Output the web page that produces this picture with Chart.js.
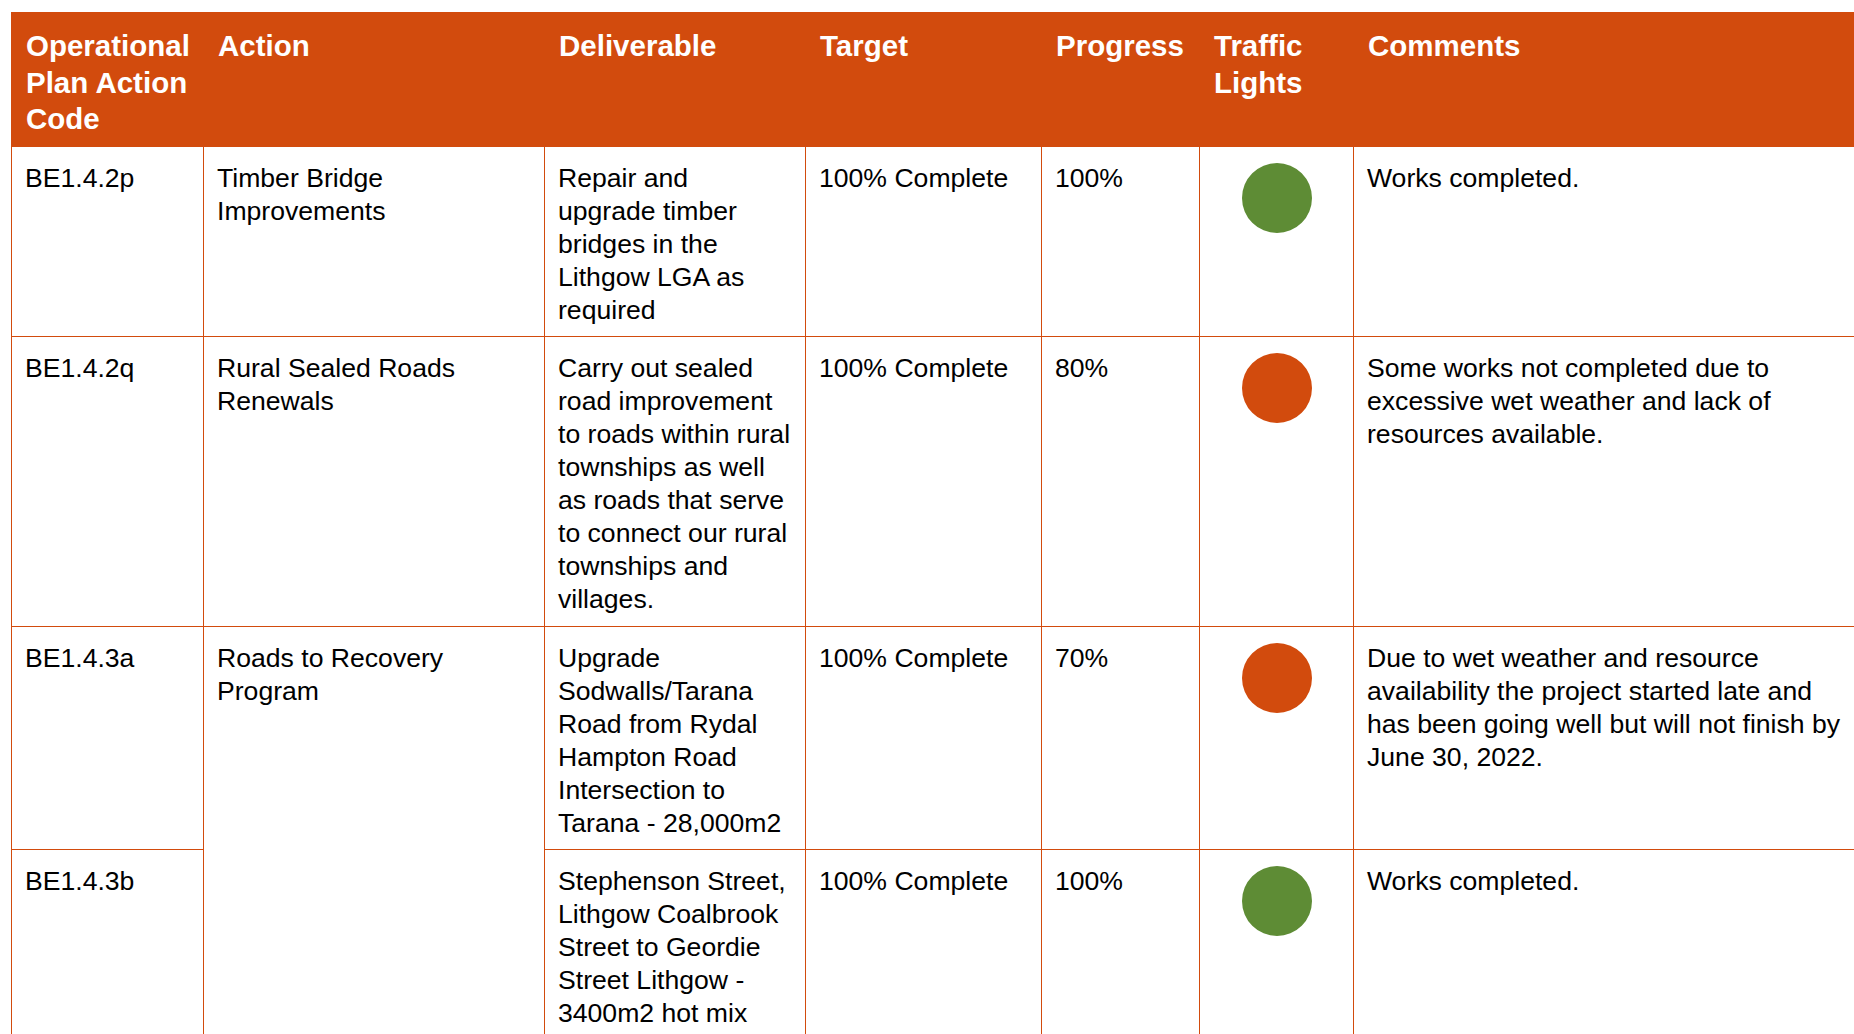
<!DOCTYPE html>
<html>
<head>
<meta charset="utf-8">
<script src="https://cdn.jsdelivr.net/npm/chart.js@4.4.1/dist/chart.umd.min.js"></script>
<style>
  html, body { margin: 0; padding: 0; background: #fff; overflow: hidden; width: 1854px; height: 1034px; }
  #plan {
    position: absolute; left: 11px; top: 12px;
    border-collapse: collapse; table-layout: fixed; width: 1900px;
    font-family: "Liberation Sans", Arial, sans-serif; color: #000;
  }
  #plan th, #plan td {
    border: 1px solid #D24B0D; vertical-align: top; text-align: left;
    white-space: pre; overflow: hidden;
  }
  #plan th {
    background: #D24B0D; color: #fff; font-weight: bold;
    font-size: 29.5px; line-height: 36.6px; padding: 15px 10px 0 14px; height: 118px;
  }
  #plan td { font-size: 26.6px; line-height: 33px; padding: 15px 10px 0 13px; }
  #plan td.light { padding: 15.5px 0 0 0; }
  #plan td.light canvas { display: block; margin: 0 auto; }
</style>
</head>
<body>
<table id="plan">
  <colgroup>
    <col style="width:192px"><col style="width:341px"><col style="width:261px">
    <col style="width:236px"><col style="width:158px"><col style="width:154px"><col>
  </colgroup>
  <thead><tr id="head"></tr></thead>
  <tbody id="rows"></tbody>
</table>
<script>
// Column headings
const headers = ['Operational\nPlan Action\nCode', 'Action', 'Deliverable', 'Target', 'Progress', 'Traffic\nLights', 'Comments'];

// One entry per row; null action = merged with the row above
const codes = ['BE1.4.2p', 'BE1.4.2q', 'BE1.4.3a', 'BE1.4.3b'];
const actions = [
    'Timber Bridge\nImprovements',
    'Rural Sealed Roads\nRenewals',
    'Roads to Recovery\nProgram',
    null
];
const deliverables = [
    'Repair and\nupgrade timber\nbridges in the\nLithgow LGA as\nrequired',
    'Carry out sealed\nroad improvement\nto roads within rural\ntownships as well\nas roads that serve\nto connect our rural\ntownships and\nvillages.',
    'Upgrade\nSodwalls/Tarana\nRoad from Rydal\nHampton Road\nIntersection to\nTarana - 28,000m2',
    'Stephenson Street,\nLithgow Coalbrook\nStreet to Geordie\nStreet Lithgow -\n3400m2 hot mix'
];
const targets = ['100% Complete', '100% Complete', '100% Complete', '100% Complete'];
const progress = [100, 80, 70, 100];
const lights = ['green', 'orange', 'orange', 'green'];
const comments = [
    'Works completed.',
    'Some works not completed due to\nexcessive wet weather and lack of\nresources available.',
    'Due to wet weather and resource\navailability the project started late and\nhas been going well but will not finish by\nJune 30, 2022.',
    'Works completed.'
];

const lightColors = { green: '#5E8C35', orange: '#D24B0D' };
const rowHeights = [190, 290, 223, 260];

// Header
const headRow = document.getElementById('head');
headers.forEach(h => {
    const th = document.createElement('th');
    th.textContent = h;
    headRow.appendChild(th);
});

// Body rows
const body = document.getElementById('rows');
const lightCanvases = [];

codes.forEach((code, i) => {
    const tr = document.createElement('tr');
    tr.style.height = rowHeights[i] + 'px';

    const cell = (text, rowSpan) => {
        const td = document.createElement('td');
        td.textContent = text;
        if (rowSpan > 1) td.rowSpan = rowSpan;
        tr.appendChild(td);
        return td;
    };

    cell(code);
    if (actions[i] !== null) {
        let span = 1;
        while (i + span < actions.length && actions[i + span] === null) span++;
        cell(actions[i], span);
    }
    cell(deliverables[i]);
    cell(targets[i]);
    cell(progress[i] + '%');

    const lightCell = cell('');
    lightCell.className = 'light';
    const canvas = document.createElement('canvas');
    canvas.width = 70;
    canvas.height = 70;
    lightCell.appendChild(canvas);
    lightCanvases.push(canvas);

    cell(comments[i]);
    body.appendChild(tr);
});

// Traffic lights: a single full slice per row
lightCanvases.forEach((canvas, i) => {
    new Chart(canvas.getContext('2d'), {
        type: 'pie',
        data: {
            labels: [lights[i]],
            datasets: [{
                data: [progress[i]],
                backgroundColor: [lightColors[lights[i]]],
                borderWidth: 0,
                hoverOffset: 0,
                offset: 0
            }]
        },
        options: {
            responsive: false,
            animation: false,
            devicePixelRatio: 1,
            layout: { padding: 0 },
            plugins: {
                legend: { display: false },
                tooltip: { enabled: false }
            }
        }
    });
});
</script>
</body>
</html>
